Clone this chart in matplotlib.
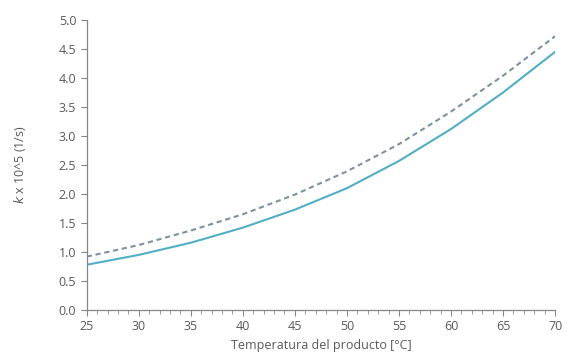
import matplotlib
matplotlib.use('Agg')
import matplotlib.pyplot as plt
from matplotlib.ticker import MultipleLocator

plt.rcParams['font.family'] = ['Open Sans', 'DejaVu Sans']

# temperature (°C) and rate constants
temp = [25, 30, 35, 40, 45, 50, 55, 60, 65, 70]
k_solid = [0.78, 0.95, 1.16, 1.42, 1.73, 2.10, 2.57, 3.12, 3.75, 4.45]
k_dashed = [0.92, 1.12, 1.37, 1.65, 1.99, 2.39, 2.86, 3.42, 4.04, 4.72]

text_color = '#595959'
axis_color = '#868686'

fig = plt.figure(figsize=(5.67, 3.63), dpi=100)
ax = fig.add_axes([0.153, 0.146, 0.826, 0.799])

ax.plot(temp, k_solid, color='#52AEC2', linewidth=1.5)
ax.plot(temp, k_dashed, color='#7C939F', linewidth=1.5, linestyle=(0, (2.5, 1.8)))

ax.set_xlim(25, 70)
ax.set_ylim(0, 5)
ax.xaxis.set_major_locator(MultipleLocator(5))
ax.xaxis.set_minor_locator(MultipleLocator(1))
ax.yaxis.set_major_locator(MultipleLocator(0.5))
ax.yaxis.set_major_formatter(plt.FormatStrFormatter('%.1f'))

for side in ['top', 'right']:
    ax.spines[side].set_visible(False)
for side in ['left', 'bottom']:
    ax.spines[side].set_color(axis_color)
    ax.spines[side].set_linewidth(0.9)

ax.tick_params(axis='both', which='both', direction='out', color=axis_color,
               labelcolor=text_color, labelsize=9)
ax.tick_params(axis='both', which='major', length=4)
ax.tick_params(axis='x', which='minor', length=3)

ax.set_xlabel('Temperatura del producto [°C]', color=text_color, fontsize=9, labelpad=4)
ax.set_ylabel('$k$ x 10^5 (1/s)', color=text_color, fontsize=9, labelpad=22)

fig.savefig('out.png', dpi=100)
